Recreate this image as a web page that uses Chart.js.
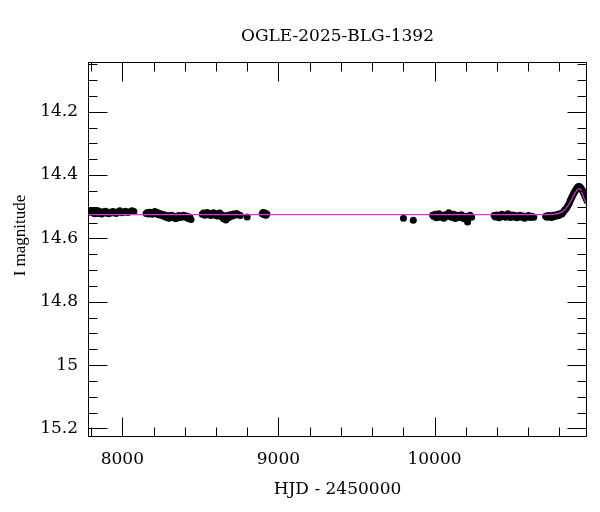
<!DOCTYPE html>
<html>
<head>
<meta charset="utf-8">
<title>OGLE-2025-BLG-1392</title>
<script src="https://cdn.jsdelivr.net/npm/chart.js@4.4.1/dist/chart.umd.min.js"></script>
<style>
    html, body { margin: 0; padding: 0; background: #fff; }
    canvas { display: block; }
</style>
</head>
<body>
<canvas id="lc" width="600" height="512"></canvas>
<script>
// OGLE I-band photometry, one pair of arrays per observing season
const season1Hjd = [7792, 7800, 7806, 7812, 7818, 7825, 7831, 7838, 7845, 7852, 7860, 7868, 7876, 7884, 7893, 7902, 7911, 7920, 7930, 7940, 7950, 7960, 7972, 7984, 7996, 8008, 8020, 8034, 8048, 8062, 8074];
const season1Mag = [14.514, 14.518, 14.512, 14.52, 14.516, 14.522, 14.515, 14.519, 14.513, 14.521, 14.517, 14.523, 14.516, 14.52, 14.514, 14.519, 14.522, 14.517, 14.52, 14.515, 14.518, 14.521, 14.516, 14.513, 14.519, 14.517, 14.514, 14.518, 14.516, 14.513, 14.515];

const season2Hjd = [8152, 8160, 8168, 8176, 8184, 8192, 8200, 8208, 8216, 8224, 8232, 8240, 8248, 8256, 8264, 8272, 8280, 8289, 8298, 8307, 8316, 8325, 8334, 8343, 8352, 8362, 8372, 8382, 8392, 8402, 8412, 8422, 8432, 8440];
const season2Mag = [14.521, 14.518, 14.523, 14.517, 14.52, 14.524, 14.519, 14.515, 14.522, 14.518, 14.525, 14.521, 14.527, 14.524, 14.53, 14.526, 14.533, 14.528, 14.536, 14.531, 14.527, 14.535, 14.53, 14.538, 14.532, 14.528, 14.534, 14.53, 14.527, 14.533, 14.529, 14.537, 14.532, 14.54];

const season3Hjd = [8512, 8520, 8528, 8536, 8544, 8552, 8560, 8568, 8576, 8584, 8592, 8600, 8608, 8616, 8624, 8632, 8640, 8648, 8656, 8664, 8672, 8680, 8690, 8700, 8710, 8720, 8732, 8744, 8756, 8800];
const season3Mag = [14.524, 14.52, 14.527, 14.522, 14.518, 14.525, 14.521, 14.528, 14.523, 14.519, 14.526, 14.522, 14.529, 14.524, 14.52, 14.531, 14.526, 14.538, 14.533, 14.542, 14.528, 14.535, 14.525, 14.53, 14.523, 14.527, 14.521, 14.525, 14.528, 14.532];

const season4Hjd = [8896, 8902, 8908, 8914, 8920, 8926];
const season4Mag = [14.522, 14.518, 14.525, 14.52, 14.527, 14.523];

const season5Hjd = [9801, 9864];
const season5Mag = [14.536, 14.543];

const season6Hjd = [9988, 9996, 10004, 10012, 10020, 10028, 10036, 10044, 10052, 10060, 10068, 10076, 10084, 10092, 10100, 10108, 10116, 10124, 10132, 10140, 10148, 10156, 10164, 10172, 10180, 10188, 10196, 10204, 10212, 10220, 10228, 10238];
const season6Mag = [14.527, 14.531, 14.524, 14.535, 14.529, 14.522, 14.533, 14.527, 14.53, 14.536, 14.525, 14.531, 14.528, 14.519, 14.526, 14.533, 14.529, 14.524, 14.537, 14.531, 14.527, 14.534, 14.529, 14.525, 14.532, 14.538, 14.53, 14.535, 14.548, 14.531, 14.527, 14.533];

const season7Hjd = [10382, 10390, 10398, 10406, 10414, 10422, 10430, 10438, 10446, 10454, 10462, 10470, 10478, 10486, 10494, 10502, 10510, 10518, 10528, 10538, 10548, 10558, 10568, 10578, 10590, 10602, 10614, 10626, 10636];
const season7Mag = [14.528, 14.532, 14.526, 14.53, 14.535, 14.529, 14.524, 14.531, 14.527, 14.533, 14.529, 14.522, 14.528, 14.534, 14.53, 14.526, 14.532, 14.528, 14.535, 14.531, 14.527, 14.533, 14.529, 14.536, 14.531, 14.528, 14.534, 14.53, 14.533];

const season8Hjd = [10712, 10720, 10728, 10736, 10744, 10752, 10760, 10768, 10776, 10784, 10792, 10800, 10808, 10816, 10824, 10832, 10840, 10848, 10856, 10864, 10870, 10876, 10882, 10888, 10894, 10900, 10906, 10912, 10918, 10924, 10930, 10936, 10942, 10948, 10954, 10960, 10966, 10972, 10978];
const season8Mag = [14.53, 14.533, 14.528, 14.532, 14.529, 14.534, 14.527, 14.531, 14.526, 14.529, 14.524, 14.527, 14.521, 14.523, 14.517, 14.512, 14.508, 14.502, 14.495, 14.488, 14.48, 14.474, 14.468, 14.462, 14.456, 14.451, 14.446, 14.442, 14.438, 14.436, 14.437, 14.44, 14.444, 14.449, 14.455, 14.461, 14.468, 14.475, 14.482];

// microlensing model curve
const modelHjd = [7780, 10700, 10760, 10800, 10830, 10850, 10870, 10890, 10905, 10915, 10922, 10929, 10936, 10945, 10955, 10965, 10981];
const modelMag = [14.525, 14.525, 14.524, 14.52, 14.512, 14.5, 14.485, 14.466, 14.453, 14.447, 14.444, 14.443, 14.446, 14.456, 14.47, 14.483, 14.498];

// axes
const xRange = [7780, 10977];
const yRange = [14.043, 15.227];
const xTickLabels = [8000, 9000, 10000];
const yTickLabels = [14.2, 14.4, 14.6, 14.8, 15, 15.2];
const xMinorStep = 200;
const yMinorStep = 0.05;

const FONT = 'DejaVu Serif';
const MODEL_COLOR = '#e030e0';

function pairs(xs, ys) {
    return xs.map((x, i) => ({ x: x, y: ys[i] }));
}

const observed = [].concat(
    pairs(season1Hjd, season1Mag),
    pairs(season2Hjd, season2Mag),
    pairs(season3Hjd, season3Mag),
    pairs(season4Hjd, season4Mag),
    pairs(season5Hjd, season5Mag),
    pairs(season6Hjd, season6Mag),
    pairs(season7Hjd, season7Mag),
    pairs(season8Hjd, season8Mag)
);

function minorValues(range, step) {
    const out = [];
    const start = Math.ceil(range[0] / step - 1e-9);
    const end = Math.floor(range[1] / step + 1e-9);
    for (let k = start; k <= end; k++) out.push(+(k * step).toFixed(4));
    return out;
}

// box frame with inward ticks on all four sides (like the original plot)
const frameTicks = {
    id: 'frameTicks',
    afterDatasetsDraw(chart) {
        const { ctx, chartArea: a, scales } = chart;
        const x = scales.x, y = scales.y;
        const L = Math.round(a.left) + 0.5, R = Math.round(a.right) - 0.5;
        const T = Math.round(a.top) + 0.5, B = Math.round(a.bottom) - 0.5;
        ctx.save();
        ctx.strokeStyle = '#000';
        ctx.lineWidth = 1;
        ctx.beginPath();
        ctx.rect(L, T, R - L, B - T);

        const tick = (px, len, horizontal) => {
            const p = Math.round(px) + 0.5;
            if (horizontal) {
                ctx.moveTo(p, B); ctx.lineTo(p, B - len);
                ctx.moveTo(p, T); ctx.lineTo(p, T + len);
            } else {
                ctx.moveTo(L, p); ctx.lineTo(L + len, p);
                ctx.moveTo(R, p); ctx.lineTo(R - len, p);
            }
        };
        minorValues(xRange, xMinorStep).forEach((v) => {
            tick(x.getPixelForValue(v), xTickLabels.includes(v) ? 19 : 9, true);
        });
        minorValues(yRange, yMinorStep).forEach((v) => {
            const major = yTickLabels.some((t) => Math.abs(t - v) < 1e-6);
            tick(y.getPixelForValue(v), major ? 19 : 9, false);
        });
        ctx.stroke();
        ctx.restore();
    }
};

// y axis label sits a little above the middle of the axis in the original
const yLabel = {
    id: 'yLabel',
    afterDraw(chart) {
        const { ctx, chartArea: a } = chart;
        ctx.save();
        ctx.translate(21, (a.top + a.bottom) / 2 - 14);
        ctx.rotate(-Math.PI / 2);
        ctx.font = '17px "Liberation Serif"';
        ctx.fillStyle = '#000';
        ctx.textAlign = 'center';
        ctx.textBaseline = 'middle';
        ctx.fillText('I magnitude', 0, 0);
        ctx.restore();
    }
};

const font = { family: FONT, size: 17, weight: 'normal' };

new Chart(document.getElementById('lc'), {
    type: 'scatter',
    data: {
        datasets: [
            {
                label: 'model',
                type: 'line',
                data: pairs(modelHjd, modelMag),
                borderColor: MODEL_COLOR,
                borderWidth: 1.2,
                pointRadius: 0,
                cubicInterpolationMode: 'monotone',
                fill: false,
                order: 0,
            },
            {
                label: 'OGLE I',
                data: observed,
                backgroundColor: '#000',
                borderWidth: 0,
                pointRadius: 3.5,
                order: 1,
            },
        ],
    },
    options: {
        responsive: false,
        animation: false,
        devicePixelRatio: 1,
        layout: { padding: { left: 0, right: 13, top: 0, bottom: 0 } },
        plugins: {
            legend: { display: false },
            tooltip: { enabled: false },
            title: {
                display: true,
                fullSize: false,
                text: 'OGLE-2025-BLG-1392',
                color: '#000',
                font: font,
                padding: { top: 26, bottom: 15.6 },
            },
        },
        scales: {
            x: {
                type: 'linear',
                min: xRange[0],
                max: xRange[1],
                grid: { display: false, drawTicks: false },
                border: { display: false },
                afterBuildTicks: (s) => { s.ticks = xTickLabels.map((v) => ({ value: v })); },
                afterFit: (s) => { s.height = 75; },
                ticks: { color: '#000', font: font, padding: 12, maxRotation: 0, callback: (v) => String(v) },
                title: { display: true, text: 'HJD - 2450000', color: '#000', font: font, padding: { top: 0, bottom: 12 } },
            },
            y: {
                type: 'linear',
                reverse: true,
                min: yRange[0],
                max: yRange[1],
                grid: { display: false, drawTicks: false },
                border: { display: false },
                afterBuildTicks: (s) => { s.ticks = yTickLabels.map((v) => ({ value: v })); },
                afterFit: (s) => { s.width = 88; },
                ticks: { color: '#000', font: font, padding: 10, callback: (v) => String(+v.toFixed(1)) },
            },
        },
    },
    plugins: [frameTicks, yLabel],
});
</script>
</body>
</html>
